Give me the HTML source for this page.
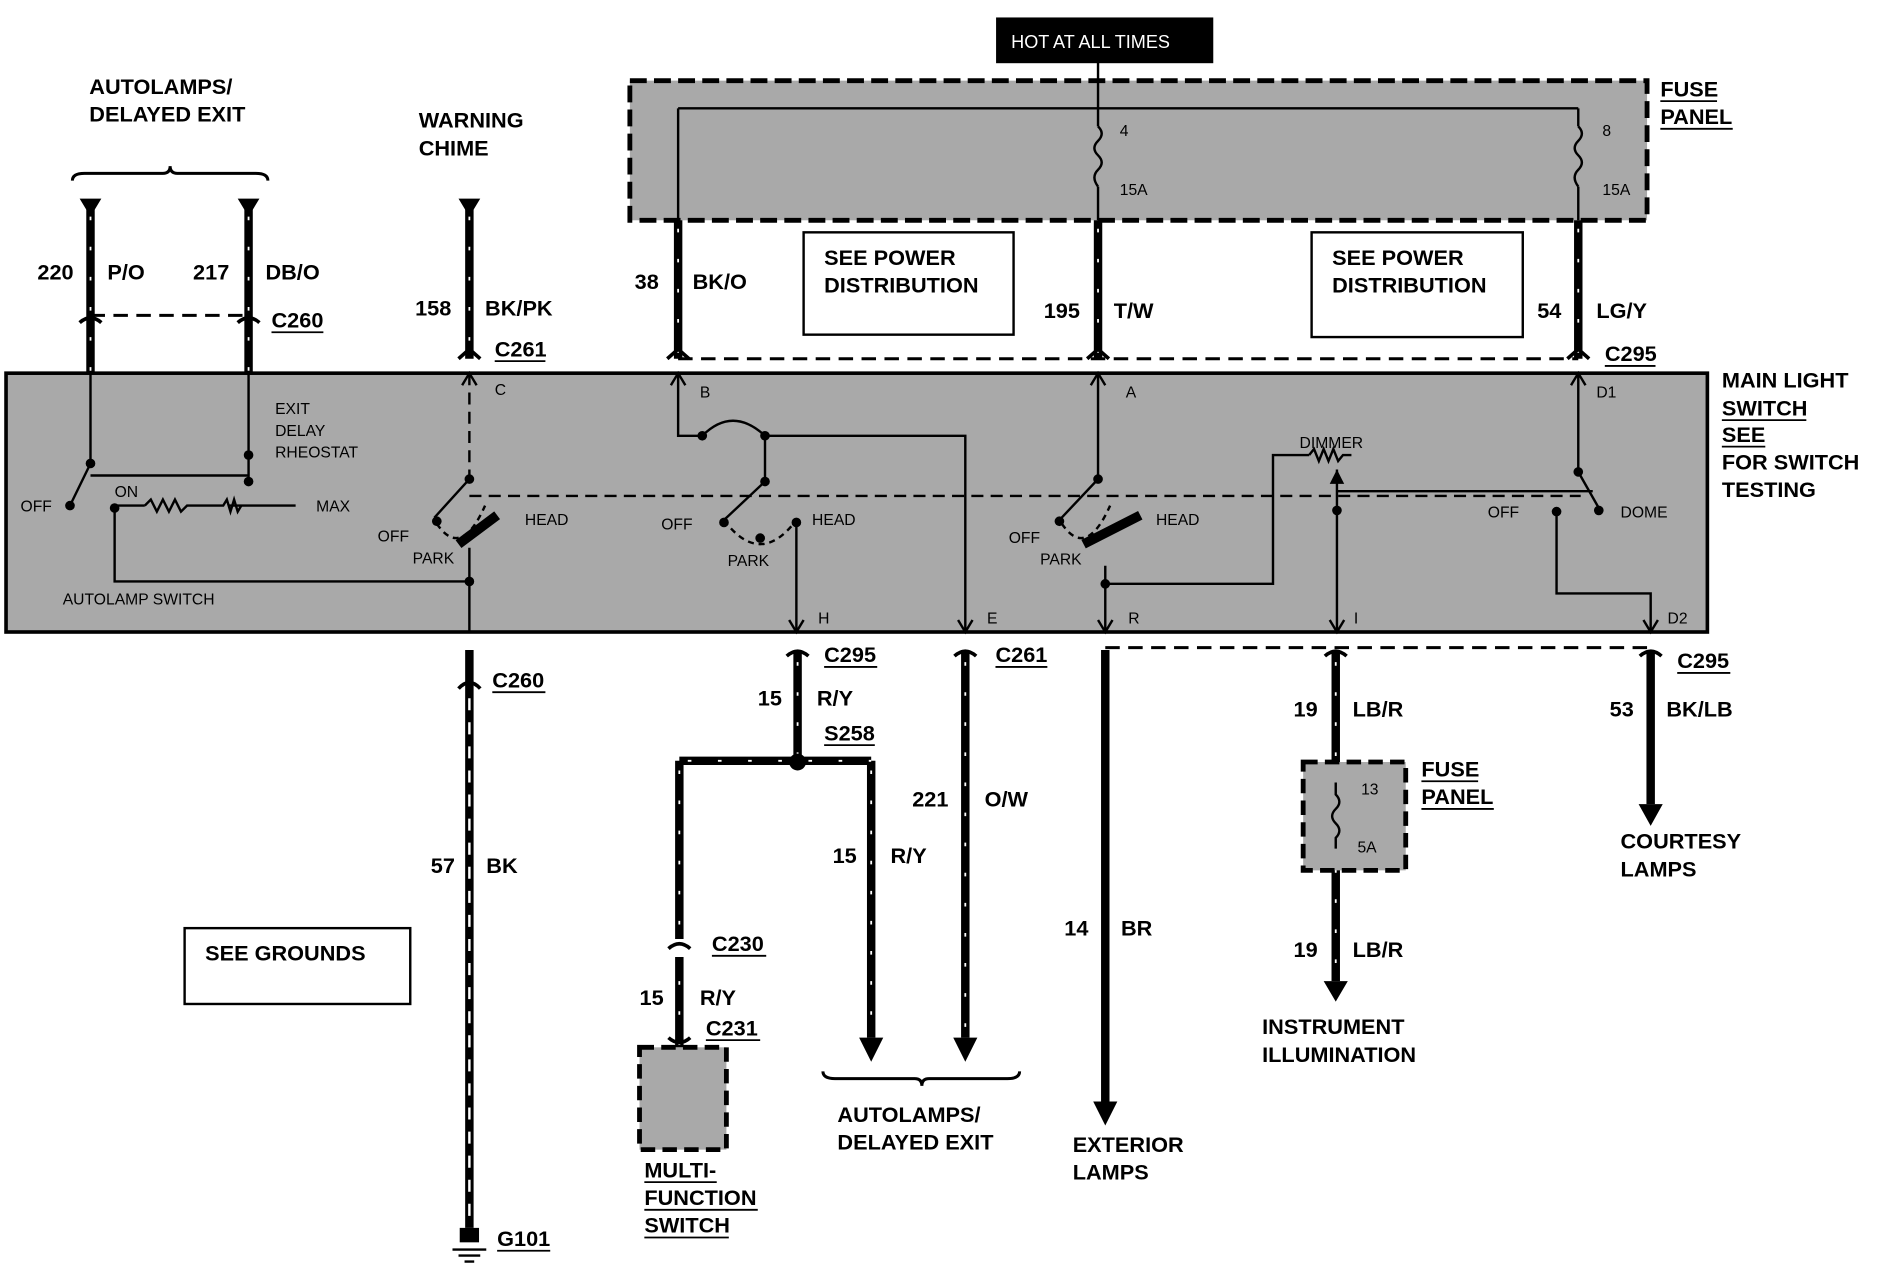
<!DOCTYPE html>
<html><head><meta charset="utf-8"><style>
html,body{margin:0;padding:0;background:#fff;}
svg{display:block;}
text{font-family:"Liberation Sans",sans-serif;font-weight:bold;fill:#000;}
.l{font-size:18px;}
.s{font-size:13px;font-weight:normal;}
</style></head><body>
<svg width="1892" height="1264" viewBox="0 0 1568 1050" preserveAspectRatio="none" xmlns="http://www.w3.org/2000/svg">
<g fill="none" stroke="#000">
<rect x="826" y="15" width="179" height="37" fill="#000"/>
<rect x="522" y="67" width="843" height="116" fill="#a9a9a9" stroke-width="4" stroke-dasharray="14,6"/>
<path d="M562 90 H1308 M562 90 V183" stroke-width="2"/>
<path d="M910 52 V105 M910 155 V183 M1308 90 V105 M1308 155 V183" stroke-width="2"/>
<path d="M910 105 q6 6 0 12 q-6 6 0 12 q6 6 0 12 q-6 6 0 14 M1308 105 q6 6 0 12 q-6 6 0 12 q6 6 0 12 q-6 6 0 14" stroke-width="2"/>
<path d="M562 183 V298 M910 183 V298 M1308 183 V298 M75 170 V310 M206 170 V310 M389 170 V298" stroke-width="7"/>
<path d="M562 190 V298 M910 190 V298 M1308 190 V298 M75 180 V310 M206 180 V310 M389 180 V298" stroke="#fff" stroke-width="1.5" stroke-dasharray="3,22"/>
<path d="M66 165 H84 L75 180z M197 165 H215 L206 180z M380 165 H398 L389 180z" fill="#000" stroke="none"/>
<path d="M75 262 H206 M562 298 H1308" stroke-width="2.5" stroke-dasharray="12,7"/>
<path d="M66 268 q9 -8 18 0 M197 268 q9 -8 18 0 M553 298 l9 -8 9 8 M901 298 l9 -8 9 8 M1299 298 l9 -8 9 8 M380 298 l9 -8 9 8" stroke-width="3"/>
<path d="M60 150 q0 -6 10 -6 H135 q6 0 6 -6 q0 6 6 6 H212 q10 0 10 6" stroke-width="2.5"/>
<rect x="666" y="193" width="174" height="85" stroke-width="2"/>
<rect x="1087" y="193" width="175" height="87" stroke-width="2"/>
<rect x="5" y="310" width="1410" height="215" fill="#a9a9a9" stroke-width="3"/>
<g stroke-width="2">
<path d="M75 310 V385 M206 310 V400 M75 385 L58 420 M75 395 H206 M95 420 H120 M190 420 H245 M95 420 V483 H389"/>
<path d="M120 420 l5 -5 5 10 5 -10 5 10 5 -10 5 10 5 -5 H185 l3 -5 3 10 3 -10 3 10 3 -5"/>
<path d="M389 310 V398 M389 412 H1310" stroke-dasharray="10,6"/>
<path d="M389 398 L360 430 M389 455 V525"/>
<path d="M562 310 V362 H582 q25 -25 52 0 H800 V525 M634 362 V400 L600 432 M660 432 V525"/>
<path d="M910 310 V398 L878 432 M916 470 V525 M916 485 H1055 V378 H1085 M1108 390 V525 M1108 408 H1320 M1308 310 V392 L1325 422 M1290 425 V493 H1368 V525"/>
<path d="M1085 378 l4 -5 4 10 4 -10 4 10 4 -10 4 10 4 -5 H1120"/>
<path d="M600 432 q30 40 60 0" stroke-dasharray="5,4"/>
<path d="M362 435 q20 30 40 -15 M880 435 q20 30 40 -15" stroke-dasharray="5,4"/>
</g>
<path d="M380 452 L412 428 M898 452 L945 428" stroke-width="8"/>
<g fill="#000" stroke="none">
<circle cx="75" cy="385" r="4"/><circle cx="206" cy="378" r="4"/><circle cx="206" cy="400" r="4"/><circle cx="58" cy="420" r="4"/><circle cx="95" cy="422" r="4"/>
<circle cx="389" cy="398" r="4"/><circle cx="362" cy="433" r="4"/><circle cx="389" cy="483" r="4"/>
<circle cx="582" cy="362" r="4"/><circle cx="634" cy="362" r="4"/><circle cx="634" cy="400" r="4"/><circle cx="600" cy="434" r="4"/><circle cx="660" cy="434" r="4"/><circle cx="630" cy="447" r="4"/>
<circle cx="910" cy="398" r="4"/><circle cx="878" cy="433" r="4"/><circle cx="916" cy="485" r="4"/><circle cx="1108" cy="424" r="4"/><circle cx="1308" cy="392" r="4"/><circle cx="1290" cy="425" r="4"/><circle cx="1325" cy="424" r="4"/>
<path d="M1102 402 L1108 390 L1114 402z"/>
</g>
<path d="M383 320 l6 -10 6 10 M556 320 l6 -10 6 10 M904 320 l6 -10 6 10 M1302 320 l6 -10 6 10 M654 515 l6 10 6 -10 M794 515 l6 10 6 -10 M910 515 l6 10 6 -10 M1102 515 l6 10 6 -10 M1362 515 l6 10 6 -10" stroke-width="2"/>
<path d="M389 540 V1020" stroke-width="7"/>
<path d="M389 580 V1020" stroke="#fff" stroke-width="2" stroke-dasharray="10,10"/>
<path d="M380 572 q9 -10 18 0" stroke-width="3"/>
<path d="M916 538 H1368" stroke-width="2.5" stroke-dasharray="12,7"/>
<path d="M661 540 V632 M563 632 H722 M563 632 V780 M563 795 V870 M722 632 V862 M800 540 V862 M916 540 V915 M1107 540 V635 M1107 722 V815 M1368 540 V668" stroke-width="7"/>
<path d="M661 550 V632 M570 632 H722 M563 640 V870 M722 640 V862 M800 550 V862 M1107 550 V635 M1107 722 V815" stroke="#fff" stroke-width="1.5" stroke-dasharray="3,22"/>
<path d="M652 545 q9 -8 18 0 M554 788 q9 -8 18 0 M554 862 q9 8 18 0 M791 545 q9 -8 18 0 M1098 545 q9 -8 18 0 M1359 545 q9 -8 18 0" stroke-width="3"/>
<g fill="#000" stroke="none">
<circle cx="661" cy="633" r="7"/>
<path d="M712 862 H732 L722 882z M790 862 H810 L800 882z M906 915 H926 L916 935z M1097 815 H1117 L1107 832z M1358 668 H1378 L1368 686z"/>
<rect x="381" y="1020" width="16" height="12"/>
</g>
<path d="M375 1038 H403 M380 1043 H398 M385 1048 H393" stroke-width="2"/>
<rect x="1080" y="633" width="85" height="90" fill="#a9a9a9" stroke-width="4" stroke-dasharray="12,6"/>
<path d="M1107 650 V660 q6 6 0 12 q-6 6 0 12 q6 6 0 12 V705" stroke-width="2"/>
<rect x="530" y="870" width="72" height="85" fill="#a9a9a9" stroke-width="4" stroke-dasharray="12,6"/>
<path d="M682 890 q0 6 10 6 H758 q6 0 6 6 q0 -6 6 -6 H835 q10 0 10 -6" stroke-width="2.5"/>
<rect x="153" y="771" width="187" height="63" stroke-width="2"/>
</g>
<text x="838" y="40" class="s" style="fill:#fff;font-size:15px">HOT AT ALL TIMES</text>
<g class="l">
<text x="1376" y="80" class="l">FUSE</text><text x="1376" y="103" class="l">PANEL</text>
<text x="74" y="78" class="l">AUTOLAMPS/</text><text x="74" y="101" class="l">DELAYED EXIT</text>
<text x="347" y="106" class="l">WARNING</text><text x="347" y="129" class="l">CHIME</text>
<text x="31" y="232" class="l">220</text><text x="89" y="232" class="l">P/O</text>
<text x="160" y="232" class="l">217</text><text x="220" y="232" class="l">DB/O</text>
<text x="225" y="272" class="l">C260</text>
<text x="344" y="262" class="l">158</text><text x="402" y="262" class="l">BK/PK</text>
<text x="410" y="296" class="l">C261</text>
<text x="526" y="240" class="l">38</text><text x="574" y="240" class="l">BK/O</text>
<text x="683" y="220" class="l">SEE POWER</text><text x="683" y="243" class="l">DISTRIBUTION</text>
<text x="1104" y="220" class="l">SEE POWER</text><text x="1104" y="243" class="l">DISTRIBUTION</text>
<text x="865" y="264" class="l">195</text><text x="923" y="264" class="l">T/W</text>
<text x="1274" y="264" class="l">54</text><text x="1323" y="264" class="l">LG/Y</text>
<text x="1330" y="300" class="l">C295</text>
<text x="1427" y="322" class="l">MAIN LIGHT</text><text x="1427" y="345" class="l">SWITCH</text><text x="1427" y="367" class="l">SEE</text><text x="1427" y="390" class="l">FOR SWITCH</text><text x="1427" y="413" class="l">TESTING</text>
<text x="408" y="571" class="l">C260</text>
<text x="357" y="725" class="l">57</text><text x="403" y="725" class="l">BK</text>
<text x="412" y="1035" class="l">G101</text>
<text x="170" y="798" class="l">SEE GROUNDS</text>
<text x="683" y="550" class="l">C295</text>
<text x="628" y="586" class="l">15</text><text x="677" y="586" class="l">R/Y</text>
<text x="683" y="615" class="l">S258</text>
<text x="590" y="790" class="l">C230</text>
<text x="530" y="835" class="l">15</text><text x="580" y="835" class="l">R/Y</text>
<text x="585" y="860" class="l">C231</text>
<text x="534" y="978" class="l">MULTI-</text><text x="534" y="1001" class="l">FUNCTION</text><text x="534" y="1024" class="l">SWITCH</text>
<text x="690" y="717" class="l">15</text><text x="738" y="717" class="l">R/Y</text>
<text x="825" y="550" class="l">C261</text>
<text x="756" y="670" class="l">221</text><text x="816" y="670" class="l">O/W</text>
<text x="694" y="932" class="l">AUTOLAMPS/</text><text x="694" y="955" class="l">DELAYED EXIT</text>
<text x="882" y="777" class="l">14</text><text x="929" y="777" class="l">BR</text>
<text x="889" y="957" class="l">EXTERIOR</text><text x="889" y="980" class="l">LAMPS</text>
<text x="1072" y="595" class="l">19</text><text x="1121" y="595" class="l">LB/R</text>
<text x="1178" y="645" class="l">FUSE</text><text x="1178" y="668" class="l">PANEL</text>
<text x="1072" y="795" class="l">19</text><text x="1121" y="795" class="l">LB/R</text>
<text x="1046" y="859" class="l">INSTRUMENT</text><text x="1046" y="882" class="l">ILLUMINATION</text>
<text x="1390" y="555" class="l">C295</text>
<text x="1334" y="595" class="l">53</text><text x="1381" y="595" class="l">BK/LB</text>
<text x="1343" y="705" class="l">COURTESY</text><text x="1343" y="728" class="l">LAMPS</text>
</g>
<g class="s">
<text x="928" y="113" class="s">4</text><text x="928" y="162" class="s">15A</text>
<text x="1328" y="113" class="s">8</text><text x="1328" y="162" class="s">15A</text>
<text x="1128" y="660" class="s">13</text><text x="1125" y="708" class="s">5A</text>
<text x="228" y="344" class="s">EXIT</text><text x="228" y="362" class="s">DELAY</text><text x="228" y="380" class="s">RHEOSTAT</text>
<text x="17" y="425" class="s">OFF</text><text x="95" y="413" class="s">ON</text><text x="262" y="425" class="s">MAX</text>
<text x="52" y="502" class="s">AUTOLAMP SWITCH</text>
<text x="410" y="328" class="s">C</text><text x="313" y="450" class="s">OFF</text><text x="435" y="436" class="s">HEAD</text><text x="342" y="468" class="s">PARK</text>
<text x="580" y="330" class="s">B</text><text x="548" y="440" class="s">OFF</text><text x="673" y="436" class="s">HEAD</text><text x="603" y="470" class="s">PARK</text>
<text x="678" y="518" class="s">H</text><text x="818" y="518" class="s">E</text>
<text x="933" y="330" class="s">A</text><text x="836" y="451" class="s">OFF</text><text x="958" y="436" class="s">HEAD</text><text x="862" y="469" class="s">PARK</text>
<text x="935" y="518" class="s">R</text><text x="1122" y="518" class="s">I</text>
<text x="1077" y="372" class="s">DIMMER</text>
<text x="1323" y="330" class="s">D1</text><text x="1233" y="430" class="s">OFF</text><text x="1343" y="430" class="s">DOME</text><text x="1382" y="518" class="s">D2</text>
</g>
<g stroke="#000" stroke-width="1.5">
<path d="M1376 84 H1423 M1376 107 H1436 M225 276 H268 M410 300 H452 M1330 304 H1372 M1427 349 H1497 M1427 371 H1463 M408 575 H452 M683 554 H727 M683 619 H725 M590 794 H635 M585 864 H630 M534 982 H594 M534 1005 H628 M534 1028 H604 M825 554 H868 M1178 649 H1225 M1178 672 H1238 M1390 559 H1434 M412 1039 H456"/>
</g>
</svg>
</body></html>
